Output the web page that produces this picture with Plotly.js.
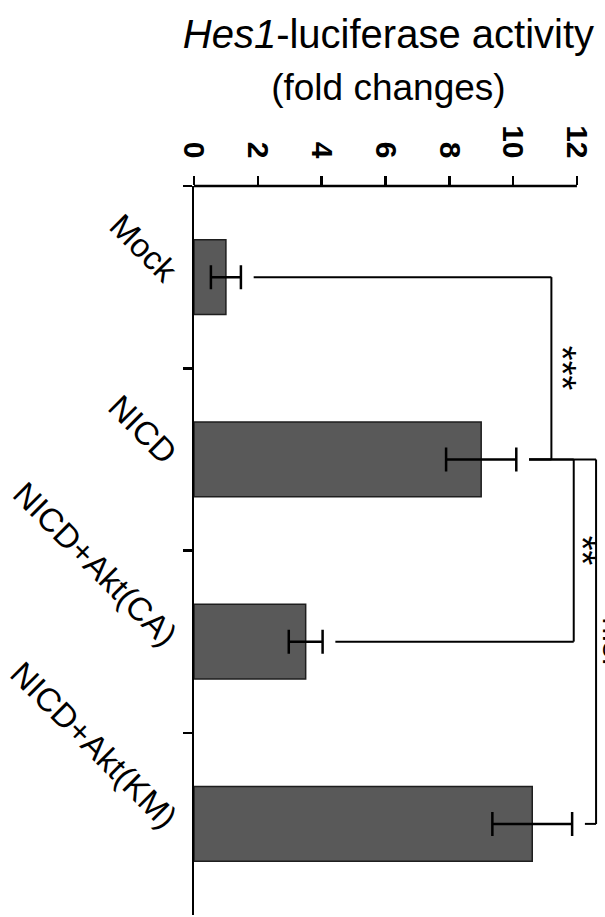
<!DOCTYPE html>
<html>
<head>
<meta charset="utf-8">
<script src="https://cdn.plot.ly/plotly-3.0.1.min.js"></script>
<style>html,body{margin:0;padding:0;background:#fff;}#chart{width:605px;height:917px;}</style>
</head>
<body>
<div id="chart"></div>
<script>
// ---- data ----
var categories = ["Mock", "NICD", "NICD+Akt(CA)", "NICD+Akt(KM)"];
var foldChange = [1.0, 9.0, 3.5, 10.6];
var errorSD = [0.47, 1.1, 0.53, 1.25];
var xTickVals = [0, 2, 4, 6, 8, 10, 12];
var xTickText = ["0", "2", "4", "6", "8", "10", "12"];
// significance comparisons: [groupA index, groupB index, label]
var comparisons = [[0, 1, "***"], [1, 2, "**"], [1, 3, "n.s."]];

// ---- styling / layout constants ----
var FONT = "Arial, 'Liberation Sans', sans-serif";
var gap = 0.4;                  // gap between error bar end and bracket
var levels = [11.2, 11.9, 12.6]; // bracket heights (data units)
var labelShift = [10, 9, 17];   // px offset of significance labels from bracket
var labelSize = [38, 38, 30];
var LW = 2;

var trace = {
  type: "bar",
  orientation: "h",
  y: categories,
  x: foldChange,
  width: 0.41,
  marker: {color: "#595959", line: {color: "#1e1e1e", width: 1.5}},
  error_x: {type: "data", array: errorSD, visible: true, color: "#000", thickness: 2.5, width: 12},
  hoverinfo: "skip"
};

var shapes = [];
// top axis line from 0 to last tick
shapes.push({type: "line", xref: "x", yref: "paper", x0: xTickVals[0], x1: xTickVals[xTickVals.length - 1], y0: 1, y1: 1, line: {color: "#000", width: 2.5}});

var annotations = [];
comparisons.forEach(function (c, k) {
  var a = c[0], b = c[1], lev = levels[k];
  var startA = foldChange[a] + errorSD[a] + gap;
  var startB = foldChange[b] + errorSD[b] + gap;
  var ln = {color: "#000", width: LW};
  shapes.push({type: "line", xref: "x", yref: "y", x0: startA, x1: lev, y0: a, y1: a, line: ln});
  shapes.push({type: "line", xref: "x", yref: "y", x0: startB, x1: lev, y0: b, y1: b, line: ln});
  shapes.push({type: "line", xref: "x", yref: "y", x0: lev, x1: lev, y0: a, y1: b, line: ln});
  annotations.push({
    xref: "x", yref: "y", x: lev, xshift: labelShift[k], y: (a + b) / 2,
    text: c[2], showarrow: false, textangle: 90,
    font: {family: FONT, size: labelSize[k], color: "#000"}
  });
});

var layout = {
  width: 605, height: 917,
  margin: {l: 194, r: 0, t: 186, b: 2, pad: 0},
  paper_bgcolor: "#fff", plot_bgcolor: "#fff",
  showlegend: false,
  font: {family: FONT, color: "#000"},
  title: {
    text: "<i>Hes1</i>-luciferase activity<br><span style=\"font-size:37px\">(fold changes)</span>",
    font: {family: FONT, size: 40, color: "#000"},
    xref: "container", x: 0.642, xanchor: "center",
    yref: "container", y: 0.948, yanchor: "top", pad: {t: 0}
  },
  xaxis: {
    side: "top", range: [0, 12.88], fixedrange: true,
    tickmode: "array", tickvals: xTickVals, ticktext: xTickText,
    ticks: "outside", ticklen: 9, tickwidth: 2.5, tickcolor: "#000",
    ticklabelstandoff: 7,
    tickangle: 90, tickfont: {family: FONT, size: 30, color: "#000", weight: "bold"},
    showline: false, showgrid: false, zeroline: false
  },
  yaxis: {
    type: "category", categoryorder: "array", categoryarray: categories,
    range: [3.5, -0.5], fixedrange: true,
    tickson: "boundaries", ticks: "outside", ticklen: 9, tickwidth: 2.5, tickcolor: "#000",
    ticklabelstandoff: 10,
    showline: true, linewidth: 2.5, linecolor: "#000",
    tickangle: 45, tickfont: {family: FONT, size: 33, color: "#000"},
    showgrid: false, zeroline: false
  },
  shapes: shapes,
  annotations: annotations
};

Plotly.newPlot("chart", [trace], layout, {staticPlot: true, displayModeBar: false});
</script>
</body>
</html>
